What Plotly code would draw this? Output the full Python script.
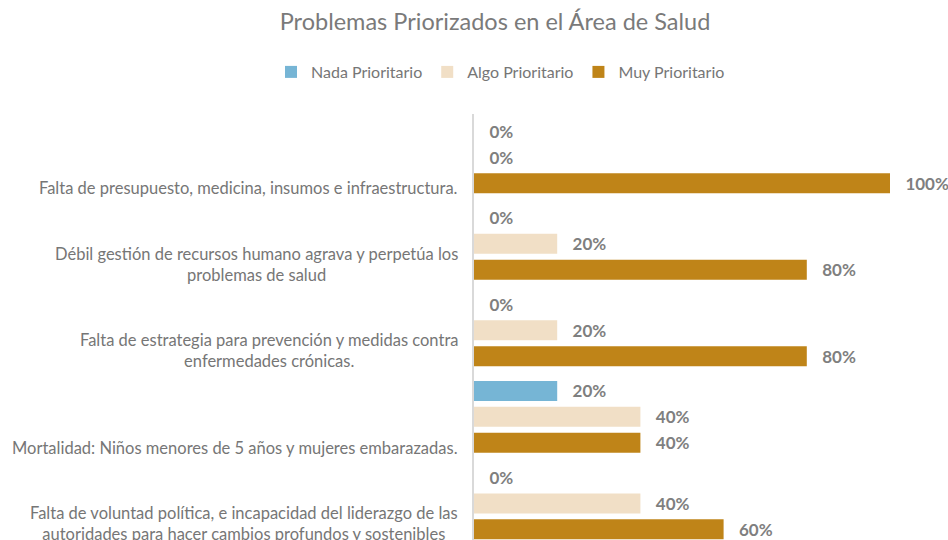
import plotly.graph_objects as go

categories = [
    "Falta de presupuesto, medicina, insumos e infraestructura.",
    "Débil gestión de recursos humano agrava y perpetúa los<br>problemas de salud",
    "Falta de estrategia para prevención y medidas contra<br>enfermedades crónicas.",
    "Mortalidad: Niños menores de 5 años y mujeres embarazadas.",
    "Falta de voluntad política, e incapacidad del liderazgo de las<br>autoridades para hacer cambios profundos y sostenibles",
]
series_names = ["Nada Prioritario", "Algo Prioritario", "Muy Prioritario"]
nada = [0.0, 0.0, 0.0, 0.2, 0.0]
algo = [0.0, 0.2, 0.2, 0.4, 0.4]
muy = [1.0, 0.8, 0.8, 0.4, 0.6]
colors = ["#76b5d5", "#f1dfc6", "#bf8418"]

FONT = "Lato"
fig = go.Figure()
for name, vals, col in zip(series_names, [nada, algo, muy], colors):
    fig.add_trace(go.Bar(
        name=name, y=categories, x=vals, orientation="h",
        marker=dict(color=col, line=dict(width=0)),
        texttemplate="\u00a0\u00a0\u00a0%{x:.0%}", textposition="outside",
        textfont=dict(family=FONT, size=17, color="#7f7f7f", weight="bold"),
        cliponaxis=False, constraintext="none",
        hoverinfo="skip",
    ))

annotations = []
for c in categories:
    annotations.append(dict(
        x=0, xref="paper", y=c, yref="y", text=c, showarrow=False,
        xanchor="right", yanchor="bottom", align="center",
        xshift=-14, yshift=-43,
        font=dict(family=FONT, size=16.5, color="#767676"),
    ))

PLOT_L, PLOT_W = 474, 416
PLOT_H = 540 - 114
fig.update_layout(
    width=948, height=540,
    margin=dict(l=PLOT_L, r=948 - PLOT_L - PLOT_W, t=114, b=0, autoexpand=False),
    paper_bgcolor="white", plot_bgcolor="white",
    barmode="group", bargap=0.1, bargroupgap=0.23,
    title=dict(text="Problemas Priorizados en el Área de Salud",
               x=495 / 948, xref="container", xanchor="center",
               y=1 - 22 / 540, yref="container", yanchor="middle",
               font=dict(family=FONT, size=23.5, color="#7a7a7a")),
    legend=dict(orientation="h", xref="paper", yref="paper",
                x=(271 - PLOT_L) / PLOT_W, xanchor="left",
                y=(540 - 72) / PLOT_H, yanchor="middle",
                font=dict(family=FONT, size=16, color="#767676"),
                itemwidth=30, traceorder="normal"),
    xaxis=dict(range=[0, 1.0], showticklabels=False, showgrid=False,
               zeroline=False, showline=False, fixedrange=True),
    yaxis=dict(range=[4.423, -0.5], showticklabels=False, showgrid=False,
               showline=True, linecolor="#d9d9d9", linewidth=2, ticks="",
               fixedrange=True),
    annotations=annotations,
    showlegend=True,
)

fig.write_html("out.html", config={"displayModeBar": False},
               post_script="document.body.style.margin='0';document.body.style.overflow='hidden';")
